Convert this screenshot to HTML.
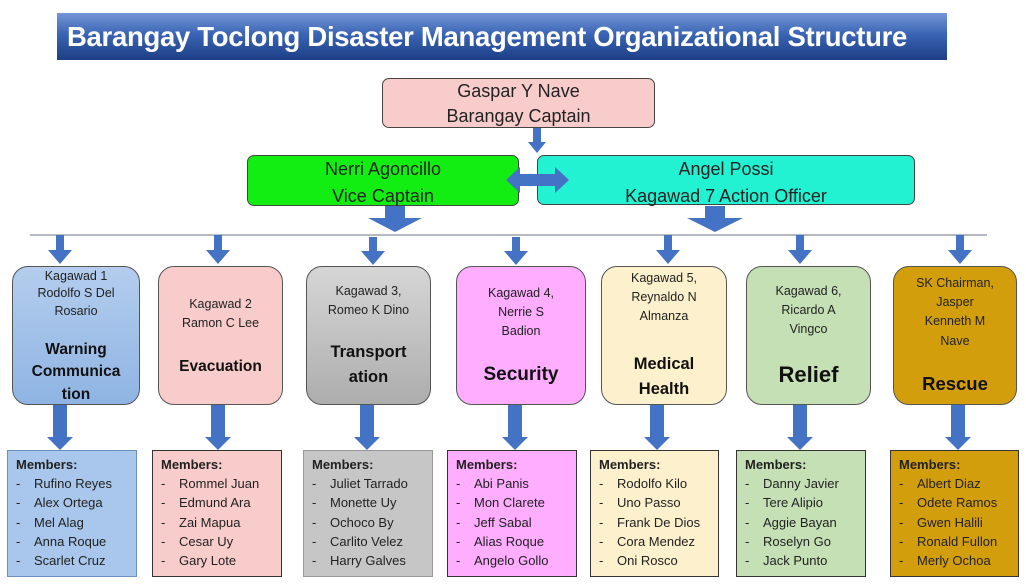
<!DOCTYPE html>
<html><head><meta charset="utf-8"><style>
body{margin:0;width:1026px;height:586px;background:#fff;position:relative;overflow:hidden;font-family:"Liberation Sans",sans-serif;}
.a{position:absolute;box-sizing:border-box;}
.t{position:absolute;left:0;right:0;text-align:center;white-space:nowrap;color:#222;}
.k{border:1px solid #555;border-radius:16px;}
.s{font-size:12.5px;}
.b{font-weight:bold;color:#111;}
.m{border:1.5px solid #333;font-size:13px;color:#222;}
.m div{position:absolute;white-space:nowrap;}
</style></head><body>
<div class="a" style="left:57px;top:13px;width:890px;height:47px;background:linear-gradient(#7396d6,#3a64b4 45%,#1d3f85);"></div>
<div class="a" style="left:67px;top:13px;width:870px;height:47px;color:#fff;font-weight:bold;font-size:27.5px;line-height:47px;white-space:nowrap;letter-spacing:-0.3px">Barangay Toclong Disaster Management Organizational Structure</div>

<div class="a" style="left:382px;top:78px;width:273px;height:50px;background:#f9cccc;border:1px solid #444;border-radius:7px;font-size:18px;text-align:center;line-height:25px;color:#222">Gaspar Y Nave<br>Barangay Captain</div>
<div class="a" style="left:247px;top:155px;width:272px;height:51px;background:#12ee12;border:1px solid #444;border-radius:7px;font-size:18px;text-align:center;line-height:27px;color:#222">Nerri Agoncillo<br>Vice Captain</div>
<div class="a" style="left:537px;top:155px;width:378px;height:50px;background:#22f2d2;border:1px solid #444;border-radius:7px;font-size:18px;text-align:center;line-height:27px;color:#222">Angel Possi<br>Kagawad 7 Action Officer</div>

<svg class="a" style="left:0;top:0" width="1026" height="586">
<g fill="#4472c4">
<polygon points="533,128 541,128 541,142 546,142 537,153 528,142 533,142"/>
<polygon points="506,180 520,167 520,174 555,174 555,167 569,180 555,193 555,186 520,186 520,193"/>
<polygon points="385,206 405,206 405,218 422,218 395,232 368,218 385,218"/>
<polygon points="705,206 725,206 725,218 743,218 715,232 687,218 705,218"/>
</g>
<line x1="30" y1="235" x2="987" y2="235" stroke="#9aa4b0" stroke-width="1.5"/>
<g fill="#4472c4">
<polygon points="56,235 64,235 64,250 72,250 60,264 48,250 56,250"/>
<polygon points="214,235 222,235 222,250 230,250 218,264 206,250 214,250"/>
<polygon points="369,237 377,237 377,251 385,251 373,265 361,251 369,251"/>
<polygon points="512,237 520,237 520,251 528,251 516,265 504,251 512,251"/>
<polygon points="664,235 672,235 672,250 680,250 668,264 656,250 664,250"/>
<polygon points="796,235 804,235 804,250 812,250 800,264 788,250 796,250"/>
<polygon points="956,235 964,235 964,250 972,250 960,264 948,250 956,250"/>
</g>
<g fill="#4472c4">
<polygon points="53,405 67,405 67,437 73,437 60,450 47,437 53,437"/>
<polygon points="211,405 225,405 225,437 231,437 218,450 205,437 211,437"/>
<polygon points="360,405 374,405 374,437 380,437 367,450 354,437 360,437"/>
<polygon points="508,405 522,405 522,437 528,437 515,450 502,437 508,437"/>
<polygon points="650,405 664,405 664,437 670,437 657,450 644,437 650,437"/>
<polygon points="793,405 807,405 807,437 813,437 800,450 787,437 793,437"/>
<polygon points="951,405 965,405 965,437 971,437 958,450 945,437 951,437"/>
</g>
</svg>

<div class="a k" style="left:12px;top:266px;width:128px;height:139px;background:linear-gradient(#b4cdee,#8fb4e3)">
<div class="t s" style="top:2px">Kagawad 1</div><div class="t s" style="top:19px">Rodolfo S Del</div><div class="t s" style="top:37px">Rosario</div>
<div class="t b" style="top:74px;font-size:15.5px">Warning</div><div class="t b" style="top:96px;font-size:15.5px">Communica</div><div class="t b" style="top:119px;font-size:15.5px">tion</div></div>
<div class="a k" style="left:158px;top:266px;width:125px;height:139px;background:#f9cccc">
<div class="t s" style="top:30px">Kagawad 2</div><div class="t s" style="top:49px">Ramon C Lee</div>
<div class="t b" style="top:91px;font-size:15.5px">Evacuation</div></div>
<div class="a k" style="left:306px;top:266px;width:125px;height:139px;background:linear-gradient(#d6d6d6,#adadad)">
<div class="t s" style="top:17px">Kagawad 3,</div><div class="t s" style="top:36px">Romeo K Dino</div>
<div class="t b" style="top:76px;font-size:16.5px">Transport</div><div class="t b" style="top:101px;font-size:16.5px">ation</div></div>
<div class="a k" style="left:456px;top:266px;width:130px;height:139px;background:#ffadff">
<div class="t s" style="top:19px">Kagawad 4,</div><div class="t s" style="top:38px">Nerrie S</div><div class="t s" style="top:57px">Badion</div>
<div class="t b" style="top:97px;font-size:19px">Security</div></div>
<div class="a k" style="left:601px;top:266px;width:126px;height:139px;background:#fdf0cc">
<div class="t s" style="top:4px">Kagawad 5,</div><div class="t s" style="top:23px">Reynaldo N</div><div class="t s" style="top:42px">Almanza</div>
<div class="t b" style="top:88px;font-size:16.5px">Medical</div><div class="t b" style="top:113px;font-size:16.5px">Health</div></div>
<div class="a k" style="left:746px;top:266px;width:125px;height:139px;background:#c6e0b6">
<div class="t s" style="top:17px">Kagawad 6,</div><div class="t s" style="top:36px">Ricardo A</div><div class="t s" style="top:55px">Vingco</div>
<div class="t b" style="top:95px;font-size:22px">Relief</div></div>
<div class="a k" style="left:893px;top:266px;width:124px;height:139px;background:#d39e0c">
<div class="t s" style="top:9px">SK Chairman,</div><div class="t s" style="top:28px">Jasper</div><div class="t s" style="top:47px">Kenneth M</div><div class="t s" style="top:67px">Nave</div>
<div class="t b" style="top:106px;font-size:18.5px">Rescue</div></div>

<div class="a m" style="left:7px;top:450px;width:130px;height:127px;background:#a9c6ec;border-color:#6a8fc0">
<div style="left:8px;top:6px;font-weight:bold">Members:</div>
<div style="left:8px;top:25px">-</div><div style="left:26px;top:25px">Rufino Reyes</div>
<div style="left:8px;top:44px">-</div><div style="left:26px;top:44px">Alex Ortega</div>
<div style="left:8px;top:64px">-</div><div style="left:26px;top:64px">Mel Alag</div>
<div style="left:8px;top:83px">-</div><div style="left:26px;top:83px">Anna Roque</div>
<div style="left:8px;top:102px">-</div><div style="left:26px;top:102px">Scarlet Cruz</div></div>
<div class="a m" style="left:152px;top:450px;width:130px;height:127px;background:#f9cccc">
<div style="left:8px;top:6px;font-weight:bold">Members:</div>
<div style="left:8px;top:25px">-</div><div style="left:26px;top:25px">Rommel Juan</div>
<div style="left:8px;top:44px">-</div><div style="left:26px;top:44px">Edmund Ara</div>
<div style="left:8px;top:64px">-</div><div style="left:26px;top:64px">Zai Mapua</div>
<div style="left:8px;top:83px">-</div><div style="left:26px;top:83px">Cesar Uy</div>
<div style="left:8px;top:102px">-</div><div style="left:26px;top:102px">Gary Lote</div></div>
<div class="a m" style="left:303px;top:450px;width:130px;height:127px;background:#c6c6c6;border-color:#999">
<div style="left:8px;top:6px;font-weight:bold">Members:</div>
<div style="left:8px;top:25px">-</div><div style="left:26px;top:25px">Juliet Tarrado</div>
<div style="left:8px;top:44px">-</div><div style="left:26px;top:44px">Monette Uy</div>
<div style="left:8px;top:64px">-</div><div style="left:26px;top:64px">Ochoco By</div>
<div style="left:8px;top:83px">-</div><div style="left:26px;top:83px">Carlito Velez</div>
<div style="left:8px;top:102px">-</div><div style="left:26px;top:102px">Harry Galves</div></div>
<div class="a m" style="left:447px;top:450px;width:130px;height:127px;background:#ffadff">
<div style="left:8px;top:6px;font-weight:bold">Members:</div>
<div style="left:8px;top:25px">-</div><div style="left:26px;top:25px">Abi Panis</div>
<div style="left:8px;top:44px">-</div><div style="left:26px;top:44px">Mon Clarete</div>
<div style="left:8px;top:64px">-</div><div style="left:26px;top:64px">Jeff Sabal</div>
<div style="left:8px;top:83px">-</div><div style="left:26px;top:83px">Alias Roque</div>
<div style="left:8px;top:102px">-</div><div style="left:26px;top:102px">Angelo Gollo</div></div>
<div class="a m" style="left:590px;top:450px;width:129px;height:127px;background:#fdf0cc">
<div style="left:8px;top:6px;font-weight:bold">Members:</div>
<div style="left:8px;top:25px">-</div><div style="left:26px;top:25px">Rodolfo Kilo</div>
<div style="left:8px;top:44px">-</div><div style="left:26px;top:44px">Uno Passo</div>
<div style="left:8px;top:64px">-</div><div style="left:26px;top:64px">Frank De Dios</div>
<div style="left:8px;top:83px">-</div><div style="left:26px;top:83px">Cora Mendez</div>
<div style="left:8px;top:102px">-</div><div style="left:26px;top:102px">Oni Rosco</div></div>
<div class="a m" style="left:736px;top:450px;width:130px;height:127px;background:#c6e0b6">
<div style="left:8px;top:6px;font-weight:bold">Members:</div>
<div style="left:8px;top:25px">-</div><div style="left:26px;top:25px">Danny Javier</div>
<div style="left:8px;top:44px">-</div><div style="left:26px;top:44px">Tere Alipio</div>
<div style="left:8px;top:64px">-</div><div style="left:26px;top:64px">Aggie Bayan</div>
<div style="left:8px;top:83px">-</div><div style="left:26px;top:83px">Roselyn Go</div>
<div style="left:8px;top:102px">-</div><div style="left:26px;top:102px">Jack Punto</div></div>
<div class="a m" style="left:890px;top:450px;width:129px;height:127px;background:#d39e0c">
<div style="left:8px;top:6px;font-weight:bold">Members:</div>
<div style="left:8px;top:25px">-</div><div style="left:26px;top:25px">Albert Diaz</div>
<div style="left:8px;top:44px">-</div><div style="left:26px;top:44px">Odete Ramos</div>
<div style="left:8px;top:64px">-</div><div style="left:26px;top:64px">Gwen Halili</div>
<div style="left:8px;top:83px">-</div><div style="left:26px;top:83px">Ronald Fullon</div>
<div style="left:8px;top:102px">-</div><div style="left:26px;top:102px">Merly Ochoa</div></div>
</body></html>
